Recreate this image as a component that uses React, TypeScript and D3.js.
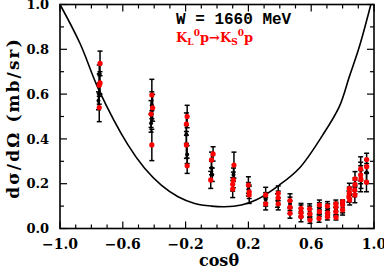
import React from "react";
import * as d3 from "d3";

// points: [cosθ, dσ/dΩ, error]
const blackPoints: [number, number, number][] = [
  [-0.75, 0.69, 0.04], [-0.75, 0.6, 0.045], [-0.755, 0.57, 0.04],
  [-0.415, 0.55, 0.06], [-0.42, 0.47, 0.04],
  [-0.195, 0.42, 0.04], [-0.19, 0.33, 0.04],
  [-0.035, 0.27, 0.03], [-0.03, 0.24, 0.03],
  [0.105, 0.24, 0.03],
  [0.2, 0.175, 0.03],
  [0.31, 0.13, 0.03],
  [0.385, 0.125, 0.03],
  [0.465, 0.11, 0.03],
  [0.535, 0.08, 0.025],
  [0.59, 0.075, 0.025],
  [0.652, 0.09, 0.025],
  [0.705, 0.085, 0.025],
  [0.758, 0.085, 0.025],
  [0.8, 0.095, 0.025],
  [0.843, 0.15, 0.03],
  [0.879, 0.185, 0.03],
  [0.915, 0.23, 0.066],
  [0.953, 0.25, 0.04],
];

const redPoints: [number, number, number][] = [
  [-0.745, 0.737, 0.055], [-0.745, 0.65, 0.05], [-0.75, 0.64, 0.05], [-0.75, 0.54, 0.063],
  [-0.415, 0.596, 0.07], [-0.41, 0.539, 0.06], [-0.42, 0.511, 0.06], [-0.415, 0.373, 0.07],
  [-0.19, 0.5, 0.05], [-0.195, 0.466, 0.05], [-0.195, 0.373, 0.06], [-0.19, 0.28, 0.034],
  [-0.025, 0.333, 0.032], [-0.035, 0.306, 0.035], [-0.04, 0.217, 0.038],
  [0.108, 0.283, 0.058], [0.104, 0.217, 0.035], [0.1, 0.197, 0.03], [0.1, 0.176, 0.038],
  [0.2, 0.194, 0.037], [0.205, 0.164, 0.03], [0.205, 0.15, 0.038],
  [0.31, 0.15, 0.034], [0.31, 0.11, 0.027],
  [0.39, 0.157, 0.033], [0.39, 0.137, 0.03], [0.39, 0.11, 0.027],
  [0.465, 0.125, 0.03], [0.465, 0.095, 0.028], [0.465, 0.068, 0.022],
  [0.535, 0.09, 0.022], [0.535, 0.07, 0.02], [0.535, 0.053, 0.023],
  [0.59, 0.088, 0.022], [0.592, 0.065, 0.022], [0.592, 0.038, 0.015],
  [0.652, 0.105, 0.022], [0.652, 0.075, 0.02], [0.65, 0.045, 0.017],
  [0.703, 0.1, 0.02], [0.705, 0.07, 0.02], [0.703, 0.053, 0.015],
  [0.757, 0.11, 0.017], [0.758, 0.097, 0.02], [0.757, 0.075, 0.02], [0.758, 0.05, 0.012],
  [0.8, 0.12, 0.007], [0.8, 0.105, 0.02], [0.8, 0.083, 0.023],
  [0.843, 0.178, 0.024], [0.843, 0.16, 0.025], [0.84, 0.142, 0.025], [0.845, 0.127, 0.022],
  [0.879, 0.222, 0.032], [0.879, 0.196, 0.03], [0.877, 0.172, 0.03], [0.878, 0.15, 0.035],
  [0.915, 0.266, 0.054], [0.915, 0.24, 0.04], [0.917, 0.219, 0.04],
  [0.953, 0.308, 0.028], [0.953, 0.276, 0.03], [0.952, 0.207, 0.043],
];

// fit curve, sampled from the figure
const curvePoints: [number, number][] = [
  [-1.0, 1.0], [-0.873, 0.827], [-0.752, 0.618], [-0.567, 0.373], [-0.461, 0.269],
  [-0.355, 0.194], [-0.248, 0.142], [-0.142, 0.112], [-0.036, 0.1], [0.049, 0.097],
  [0.155, 0.105], [0.248, 0.127], [0.397, 0.194], [0.524, 0.269], [0.673, 0.417],
  [0.779, 0.544], [0.843, 0.678], [0.906, 0.81], [0.98, 1.0],
];

const xLabels = [-1.0, -0.6, -0.2, 0.2, 0.6, 1.0];
const yLabels = [0.0, 0.2, 0.4, 0.6, 0.8, 1.0];
const xMinor = d3.range(-10, 11).map((i) => i / 10);
const yMinor = d3.range(0, 11).map((i) => i / 10);

const W = 384;
const H = 270;
const serif = "'DejaVu Serif', serif";

export default function App() {
  const x = d3.scaleLinear().domain([-1, 1]).range([60, 374]);
  const y = d3.scaleLinear().domain([0, 1]).range([228.5, 4.5]);
  const [x0, x1] = x.range();
  const [yb, yt] = y.range();

  const line = d3
    .line<[number, number]>()
    .x((d) => x(d[0]))
    .y((d) => y(d[1]))
    .curve(d3.curveCatmullRom);

  const isMajorX = (v: number) => xLabels.some((l) => Math.abs(l - v) < 1e-6);
  const isMajorY = (v: number) => yLabels.some((l) => Math.abs(l - v) < 1e-6);

  const errBar = (p: [number, number, number], i: number) => {
    const cx = x(p[0]);
    const top = y(p[1] + p[2]);
    const bot = y(p[1] - p[2]);
    return (
      <g key={i} stroke="#000" strokeWidth={1.5}>
        <line x1={cx} x2={cx} y1={top} y2={bot} />
        <line x1={cx - 2.5} x2={cx + 2.5} y1={top} y2={top} />
        <line x1={cx - 2.5} x2={cx + 2.5} y1={bot} y2={bot} />
      </g>
    );
  };

  return (
    <svg
      width={W}
      height={H}
      style={{ position: "absolute", left: 0, top: 0, background: "#fff" }}
    >
      <defs>
        <clipPath id="plot">
          <rect x={x0} y={yt} width={x1 - x0} height={yb - yt} />
        </clipPath>
      </defs>

      {/* ticks */}
      <g stroke="#000" strokeWidth={1.2}>
        {xMinor.map((v, i) => {
          const len = isMajorX(v) ? 7 : 4;
          return (
            <g key={i}>
              <line x1={x(v)} x2={x(v)} y1={yb} y2={yb - len} />
              <line x1={x(v)} x2={x(v)} y1={yt} y2={yt + len} />
            </g>
          );
        })}
        {yMinor.map((v, i) => {
          const len = isMajorY(v) ? 7 : 4;
          return (
            <g key={i}>
              <line x1={x0} x2={x0 + len} y1={y(v)} y2={y(v)} />
              <line x1={x1} x2={x1 - len} y1={y(v)} y2={y(v)} />
            </g>
          );
        })}
      </g>

      <path
        d={line(curvePoints) || ""}
        fill="none"
        stroke="#000"
        strokeWidth={1.6}
        clipPath="url(#plot)"
      />

      {blackPoints.map(errBar)}
      {redPoints.map((p, i) => errBar(p, i + 1000))}
      {blackPoints.map((p, i) => (
        <circle key={i} cx={x(p[0])} cy={y(p[1])} r={2} fill="#000" />
      ))}
      {redPoints.map((p, i) => (
        <circle key={i} cx={x(p[0])} cy={y(p[1])} r={2.6} fill="#ff0000" />
      ))}

      <rect
        x={x0}
        y={yt}
        width={x1 - x0}
        height={yb - yt}
        fill="none"
        stroke="#000"
        strokeWidth={1.6}
      />

      {/* tick labels */}
      <g fontFamily={serif} fontWeight="bold" fill="#000">
        {yLabels.map((v) => (
          <text key={v} x={49} y={y(v)} dy="0.36em" fontSize={13} textAnchor="end">
            {v.toFixed(1)}
          </text>
        ))}
        {xLabels.map((v) => (
          <text key={v} x={x(v)} y={249} fontSize={14} textAnchor="middle">
            {v < 0 ? "\u2212" + Math.abs(v).toFixed(1) : v.toFixed(1)}
          </text>
        ))}
      </g>

      {/* axis titles */}
      <text
        x={(x0 + x1) / 2 + 2}
        y={266}
        fontFamily={serif}
        fontWeight="bold"
        fontSize={16}
        textAnchor="middle"
      >
        cosθ
      </text>
      <text
        transform={`translate(19,118) rotate(-90)`}
        fontFamily={serif}
        fontWeight="bold"
        fontSize={17}
        letterSpacing={2.1}
        textAnchor="middle"
      >
        dσ/dΩ (mb/sr)
      </text>

      <text
        x={176}
        y={24}
        fontFamily="'Liberation Mono', monospace"
        fontWeight="bold"
        fontSize={16}
        fill="#000"
      >
        W = 1660 MeV
      </text>
      <text x={176} y={42} fontFamily={serif} fontWeight="bold" fontSize={13} fill="#ff0000">
        K
        <tspan fontSize={9} dy={3}>L</tspan>
        <tspan fontSize={9} dy={-9}>0</tspan>
        <tspan dy={6}>p→K</tspan>
        <tspan fontSize={9} dy={3}>S</tspan>
        <tspan fontSize={9} dy={-9}>0</tspan>
        <tspan dy={6}>p</tspan>
      </text>
    </svg>
  );
}
